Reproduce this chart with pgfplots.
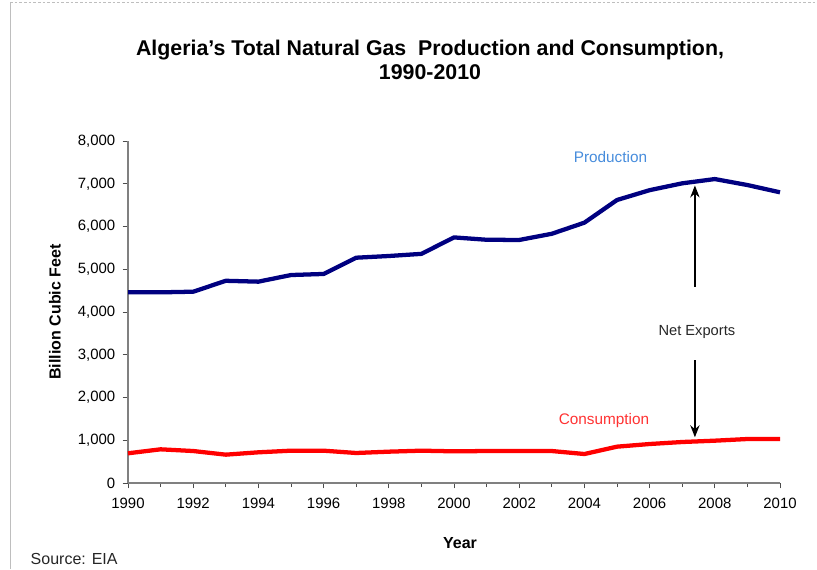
\documentclass[border=0pt]{standalone}
\usepackage{pgfplots}
\pgfplotsset{compat=1.18}
\usetikzlibrary{arrows.meta}
\usepackage{fontspec}
\setmainfont{Liberation Sans}
\definecolor{prodnavy}{RGB}{0,0,128}
\definecolor{consred}{RGB}{255,0,0}
\definecolor{prodlabel}{RGB}{70,140,220}
\definecolor{conslabel}{RGB}{255,50,50}
\definecolor{axgray}{RGB}{128,128,128}
\definecolor{framegray}{RGB}{190,190,190}
\pgfplotstableread{
year prod cons
1990 4460 695
1991 4460 788
1992 4475 748
1993 4730 663
1994 4710 718
1995 4865 756
1996 4890 756
1997 5270 702
1998 5310 733
1999 5360 756
2000 5745 741
2001 5690 748
2002 5685 748
2003 5830 748
2004 6090 678
2005 6620 850
2006 6850 912
2007 7010 959
2008 7110 990
2009 6970 1029
2010 6800 1029
}\gasdata
\begin{document}
\begin{tikzpicture}[x=0.75pt,y=0.75pt]
\path[use as bounding box] (0,0) rectangle (817,569);
\draw[framegray, dashed, dash pattern=on 2pt off 1.5pt] (10,567) -- (817,567);
\draw[framegray] (10,567) -- (10,0);
\begin{axis}[
  at={(96pt,64.5pt)}, anchor=south west,
  scale only axis,
  width=489pt, height=256.5pt,
  xmin=1990, xmax=2010, ymin=0, ymax=8000,
  axis lines=left,
  axis line style={axgray, line width=0.8pt, -},
  xtick={1990,1992,...,2010},
  minor xtick={1991,1993,...,2009},
  ytick={0,1000,...,8000},
  tick align=outside,
  major tick length=4pt,
  minor tick length=3pt,
  tick style={black!70, line width=0.6pt},
  /pgf/number format/assume math mode=true,
  yticklabel style={/pgf/number format/1000 sep={,}, font=\fontsize{11.2}{13}\selectfont, xshift=-2pt},
  xticklabel style={/pgf/number format/1000 sep={}, font=\fontsize{11.2}{13}\selectfont, yshift=-3.5pt},
  clip=false,
]
\addplot[prodnavy, line width=3.2pt, line join=round] table[x=year, y=prod] {\gasdata};
\addplot[consred, line width=3.2pt, line join=round] table[x=year, y=cons] {\gasdata};
\draw[black, line width=1.1pt, -{Stealth[length=9pt,width=7pt]}] (axis cs:2007.39,4585) -- (axis cs:2007.39,6960);
\draw[black, line width=1.1pt, -{Stealth[length=9pt,width=7pt]}] (axis cs:2007.39,2877) -- (axis cs:2007.39,1070);
\node[font=\fontsize{11}{13}\selectfont, text=black!85] at (axis cs:2007.45,3530) {Net Exports};
\node[font=\fontsize{11.5}{13}\selectfont, text=prodlabel] at (axis cs:2004.8,7630) {Production};
\node[font=\fontsize{11.5}{13}\selectfont, text=conslabel] at (axis cs:2004.6,1450) {Consumption};
\end{axis}
\node[font=\bfseries\fontsize{16}{18}\selectfont] at (430,519) {Algeria's Total Natural Gas\ \ Production and Consumption,};
\node[font=\bfseries\fontsize{16}{18}\selectfont] at (430,497) {1990-2010};
\node[font=\bfseries\fontsize{12}{14}\selectfont, rotate=90] at (55,257) {Billion Cubic Feet};
\node[font=\bfseries\fontsize{12}{14}\selectfont] at (460,26) {Year};
\node[font=\fontsize{12}{14}\selectfont, anchor=west, text=black!85] at (26,10) {Source: EIA};
\end{tikzpicture}
\end{document}
